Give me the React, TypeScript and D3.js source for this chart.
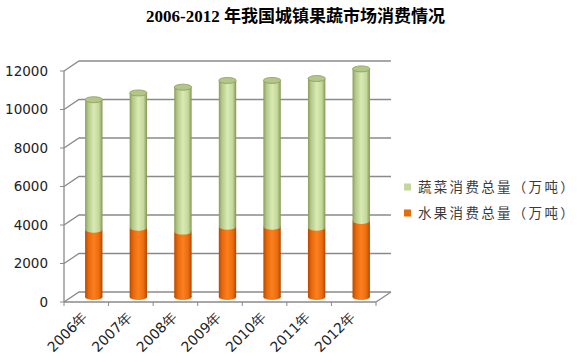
import React from "react";
import * as d3 from "d3";

const years = ["2006年", "2007年", "2008年", "2009年", "2010年", "2011年", "2012年"];
const fruit = [3500, 3600, 3400, 3650, 3650, 3600, 3950];
const vegetable = [6750, 7000, 7500, 7600, 7600, 7750, 7900];
const yTicks = [0, 2000, 4000, 6000, 8000, 10000, 12000];
const seriesNames = ["蔬菜消费总量（万吨）", "水果消费总量（万吨）"];
const title = "2006-2012 年我国城镇果蔬市场消费情况";

const W = 577, H = 363;
const DX = 15, DY = -10; // depth offset
const front = { left: 64, right: 376, bottom: 302, top: 71 };

export default function App() {
  const x = d3.scaleBand<string>().domain(years).range([front.left, front.right]).paddingInner(0.61).paddingOuter(0.305);
  const y = d3.scaleLinear().domain([0, 12000]).range([front.bottom, front.top]);
  const bw = x.bandwidth();
  const ry = 3;
  const mdx = DX / 2, mdy = DY / 2;
  const grid = "#8a8a8a";
  return (
    <svg width={W} height={H} style={{ position: "absolute", left: 0, top: 0, background: "#fff" }}>
      <defs>
        <linearGradient id="gGreen" x1="0" x2="1" y1="0" y2="0">
          <stop offset="0" stopColor="#8a9e5a" />
          <stop offset="0.18" stopColor="#b5c98a" />
          <stop offset="0.5" stopColor="#d9eab3" />
          <stop offset="0.8" stopColor="#c4d89a" />
          <stop offset="1" stopColor="#829653" />
        </linearGradient>
        <linearGradient id="gOrange" x1="0" x2="1" y1="0" y2="0">
          <stop offset="0" stopColor="#b44a00" />
          <stop offset="0.2" stopColor="#e8680a" />
          <stop offset="0.5" stopColor="#fb8020" />
          <stop offset="0.8" stopColor="#ec6c0c" />
          <stop offset="1" stopColor="#b04800" />
        </linearGradient>
      </defs>
      <text x={146} y={22} fontFamily="'Liberation Serif', 'Noto Sans CJK SC', serif" fontWeight="bold" fontSize={17} fill="#000">{title}</text>

      {yTicks.map((t) => (
        <g key={t}>
          <line x1={front.left - 4} x2={front.left} y1={y(t)} y2={y(t)} stroke={grid} strokeWidth={1} />
          <polyline points={`${front.left},${y(t)} ${front.left + DX},${y(t) + DY} ${front.right + DX},${y(t) + DY}`} fill="none" stroke={grid} strokeWidth={1.3} />
          <text x={48} y={y(t)} dy="0.35em" textAnchor="end" fontFamily="'DejaVu Sans', sans-serif" fontSize={13.5} fill="#222">{t}</text>
        </g>
      ))}
      <line x1={front.left} x2={front.left} y1={front.top} y2={front.bottom} stroke={grid} strokeWidth={1.3} />
      <line x1={front.left} x2={front.right} y1={front.bottom} y2={front.bottom} stroke={grid} strokeWidth={1.3} />
      <line x1={front.right} x2={front.right + DX} y1={front.bottom} y2={front.bottom + DY} stroke={grid} strokeWidth={1.3} />
      {d3.range(years.length + 1).map((i) => {
        const xx = front.left + i * x.step();
        return <line key={i} x1={xx} x2={xx} y1={front.bottom} y2={front.bottom + 4} stroke={grid} strokeWidth={1} />;
      })}

      {years.map((yr, i) => {
        const x0 = (x(yr) as number) + mdx;
        const cx = x0 + bw / 2;
        const base = y(0) + mdy;
        const fy = y(fruit[i]) + mdy;
        const ty = y(fruit[i] + vegetable[i]) + mdy;
        return (
          <g key={yr}>
            <rect x={x0} y={fy} width={bw} height={base - fy} fill="url(#gOrange)" />
            <ellipse cx={cx} cy={base} rx={bw / 2} ry={ry} fill="url(#gOrange)" />
            <rect x={x0} y={ty} width={bw} height={fy - ty} fill="url(#gGreen)" />
            <ellipse cx={cx} cy={fy} rx={bw / 2} ry={ry} fill="url(#gGreen)" />
            <ellipse cx={cx} cy={ty} rx={bw / 2} ry={ry} fill="#b3c687" stroke="#8a9d5c" strokeWidth={0.8} />
          </g>
        );
      })}

      {years.map((yr) => {
        const cx = (x(yr) as number) + bw / 2 + 2;
        return (
          <text key={yr} transform={`translate(${cx},${front.bottom + 16}) rotate(-45)`} textAnchor="end" fontFamily="'DejaVu Sans', sans-serif" fontSize={14} fill="#222">{yr}</text>
        );
      })}

      {seriesNames.map((s, i) => (
        <g key={s} transform={`translate(404,${187 + i * 26})`}>
          <rect x={0} y={-3.5} width={7} height={7} fill={i === 0 ? "#c3d69b" : "#e46c0a"} />
          <text x={14} y={0} dy="0.36em" fontFamily="'Noto Sans CJK SC', sans-serif" fontSize={13.5} letterSpacing={2.3} fill="#3a3a3a">{s}</text>
        </g>
      ))}
    </svg>
  );
}
